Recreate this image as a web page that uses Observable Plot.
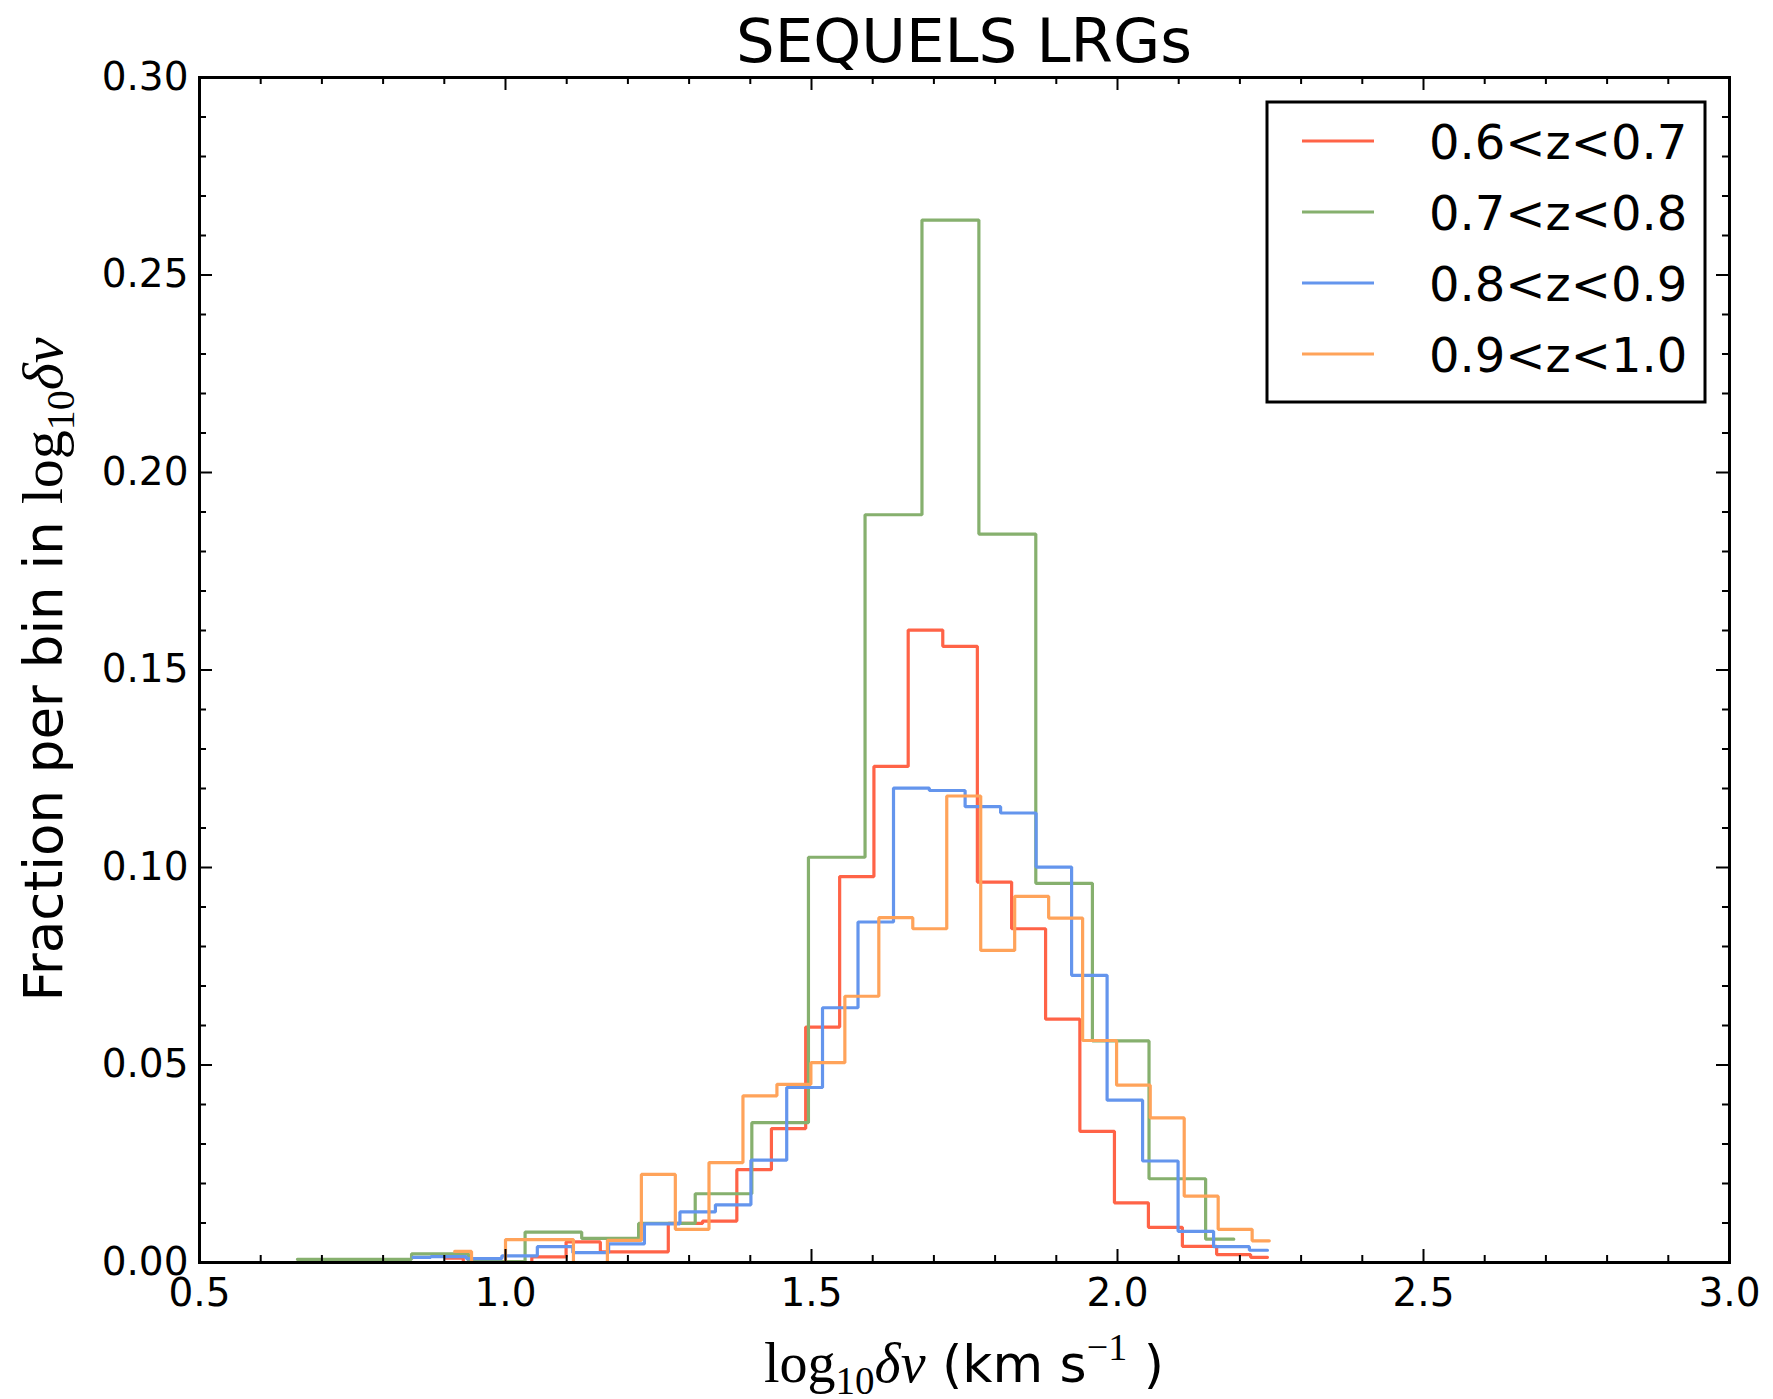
<!DOCTYPE html>
<html><head><meta charset="utf-8">
<script src="https://cdn.jsdelivr.net/npm/d3@7"></script>
<script src="https://cdn.jsdelivr.net/npm/@observablehq/plot@0.6"></script>
<style>html,body{margin:0;padding:0;background:#fff;} #chart{width:1773px;height:1399px;}</style>
</head><body><div id="chart"></div>
<script>
// ---- data ----
const seriesNames = ["0.6<z<0.7", "0.7<z<0.8", "0.8<z<0.9", "0.9<z<1.0"];
const seriesColors = ["#ff6347", "#86b06e", "#6495ed", "#ffa35a"];

const redX = [0.903,0.959,1.015,1.071,1.127,1.183,1.238,1.294,1.350,1.406,1.463,1.518,1.574,1.630,1.686,1.743,1.799,1.855,1.910,1.967,2.023,2.078,2.134,2.190,2.245];
const redY = [0.0011,0,0,0.0014,0.0052,0.0027,0.0027,0.0099,0.0105,0.0235,0.0339,0.0596,0.0977,0.1256,0.1601,0.1560,0.0963,0.0845,0.0616,0.0332,0.0151,0.0089,0.0041,0.0020,0.0013];

const greenX = [0.660,0.800,0.893,0.986,1.078,1.171,1.264,1.356,1.449,1.541,1.634,1.727,1.820,1.913,2.005,2.098,2.190];
const greenY = [0.0008,0.0008,0.0022,0.0002,0.0077,0.0061,0.0099,0.0174,0.0354,0.1026,0.1893,0.2639,0.1844,0.0960,0.0561,0.0212,0.0059];

const blueX = [0.849,0.907,0.965,1.023,1.081,1.139,1.198,1.256,1.314,1.372,1.430,1.489,1.547,1.605,1.663,1.722,1.780,1.838,1.896,1.954,2.012,2.070,2.128,2.186,2.245];
const blueY = [0.0013,0.0015,0.0010,0.0017,0.0040,0.0025,0.0047,0.0098,0.0128,0.0146,0.0259,0.0443,0.0645,0.0862,0.1201,0.1195,0.1154,0.1138,0.1001,0.0727,0.0411,0.0257,0.0079,0.0040,0.0031];

const orangeX = [0.917,0.972,1.028,1.083,1.139,1.194,1.250,1.305,1.360,1.416,1.471,1.527,1.582,1.638,1.693,1.749,1.804,1.860,1.915,1.971,2.026,2.081,2.137,2.192,2.248];
const orangeY = [0.0028,0,0.0058,0.0058,0,0.0056,0.0223,0.0084,0.0253,0.0422,0.0451,0.0506,0.0674,0.0873,0.0845,0.1181,0.0790,0.0927,0.0872,0.0562,0.0449,0.0366,0.0168,0.0084,0.0055];

const xMajor = [0.5, 1.0, 1.5, 2.0, 2.5, 3.0];
const xMinor = [0.6,0.7,0.8,0.9,1.1,1.2,1.3,1.4,1.6,1.7,1.8,1.9,2.1,2.2,2.3,2.4,2.6,2.7,2.8,2.9];
const yMajor = [0, 0.05, 0.10, 0.15, 0.20, 0.25, 0.30];
const yMinor = [0.01,0.02,0.03,0.04,0.06,0.07,0.08,0.09,0.11,0.12,0.13,0.14,0.16,0.17,0.18,0.19,0.21,0.22,0.23,0.24,0.26,0.27,0.28,0.29];

const titleText = "SEQUELS LRGs";

// ---- table built from the arrays ----
const seriesData = [[redX, redY], [greenX, greenY], [blueX, blueY], [orangeX, orangeY]];
const rows = [];
seriesData.forEach(([xs, ys], i) => xs.forEach((x, j) => rows.push({series: seriesNames[i], x, y: ys[j]})));

// ---- layout ----
const W = 1773, H = 1399;
const mL = 199, mR = 44, mT = 77, mB = 137;
const fw = W - mL - mR, fh = H - mT - mB;
const majorLen = 13, minorLen = 7;

const svg = Plot.plot({
  width: W, height: H,
  marginLeft: mL, marginRight: mR, marginTop: mT, marginBottom: mB,
  style: {fontFamily: "'DejaVu Sans', sans-serif", fontSize: "39px", color: "black", background: "white", overflow: "visible"},
  x: {domain: [0.5, 3.0], ticks: xMajor, tickFormat: d3.format(".1f"), tickSize: 0, tickPadding: 16, label: null},
  y: {domain: [0, 0.30], ticks: yMajor, tickFormat: d3.format(".2f"), tickSize: 0, tickPadding: 11, label: null},
  color: {domain: seriesNames, range: seriesColors},
  marks: [
    Plot.line(rows, {x: "x", y: "y", z: "series", stroke: "series", curve: "step", strokeWidth: 3.2, strokeLinejoin: "miter"}),
    // inward ticks on all four sides
    Plot.tickX(xMajor, {x: d => d, insetTop: fh - majorLen, stroke: "black", strokeWidth: 2}),
    Plot.tickX(xMajor, {x: d => d, insetBottom: fh - majorLen, stroke: "black", strokeWidth: 2}),
    Plot.tickX(xMinor, {x: d => d, insetTop: fh - minorLen, stroke: "black", strokeWidth: 2}),
    Plot.tickX(xMinor, {x: d => d, insetBottom: fh - minorLen, stroke: "black", strokeWidth: 2}),
    Plot.tickY(yMajor, {y: d => d, insetRight: fw - majorLen, stroke: "black", strokeWidth: 2}),
    Plot.tickY(yMajor, {y: d => d, insetLeft: fw - majorLen, stroke: "black", strokeWidth: 2}),
    Plot.tickY(yMinor, {y: d => d, insetRight: fw - minorLen, stroke: "black", strokeWidth: 2}),
    Plot.tickY(yMinor, {y: d => d, insetLeft: fw - minorLen, stroke: "black", strokeWidth: 2}),
    Plot.frame({stroke: "black", strokeWidth: 3})
  ]
});
document.getElementById("chart").appendChild(svg);

const s = d3.select(svg);
const serif = "'Liberation Serif', 'DejaVu Serif', serif";
const sans = "'DejaVu Sans', sans-serif";
const cx = mL + fw / 2, cy = mT + fh / 2;

// title
s.append("text").attr("x", cx).attr("y", 62).attr("text-anchor", "middle")
  .attr("font-family", sans).attr("font-size", 61).attr("fill", "black").text(titleText);

// x label
const xl = s.append("text").attr("x", cx).attr("y", 1382).attr("text-anchor", "middle")
  .attr("font-size", 52).attr("fill", "black");
xl.append("tspan").attr("font-family", serif).attr("font-size", 56).text("log");
xl.append("tspan").attr("font-family", serif).attr("font-size", 39).attr("dy", 12).text("10");
xl.append("tspan").attr("font-family", serif).attr("font-size", 56).attr("font-style", "italic").attr("dy", -12).text("δv");
xl.append("tspan").attr("font-family", sans).attr("font-size", 52).text(" (km s");
xl.append("tspan").attr("font-family", serif).attr("font-size", 38).attr("dy", -22).text("−1");
xl.append("tspan").attr("font-family", sans).attr("font-size", 52).attr("dy", 22).text(" )");

// y label
const yl = s.append("text").attr("transform", `translate(62,${cy}) rotate(-90)`).attr("text-anchor", "middle")
  .attr("font-size", 53).attr("fill", "black");
yl.append("tspan").attr("font-family", sans).text("Fraction per bin in ");
yl.append("tspan").attr("font-family", serif).attr("font-size", 58).text("log");
yl.append("tspan").attr("font-family", serif).attr("font-size", 40).attr("dy", 12).text("10");
yl.append("tspan").attr("font-family", serif).attr("font-size", 58).attr("font-style", "italic").attr("dy", -12).text("δv");

// legend
const lg = s.append("g");
lg.append("rect").attr("x", 1267).attr("y", 102).attr("width", 438).attr("height", 300)
  .attr("fill", "white").attr("stroke", "black").attr("stroke-width", 3);
seriesNames.forEach((name, i) => {
  const yy = 141 + i * 71;
  lg.append("line").attr("x1", 1302).attr("x2", 1374).attr("y1", yy).attr("y2", yy)
    .attr("stroke", seriesColors[i]).attr("stroke-width", 3.2);
  lg.append("text").attr("x", 1429).attr("y", yy + 17.5).attr("text-anchor", "start")
    .attr("font-family", sans).attr("font-size", 48).attr("fill", "black").text(name);
});
</script>
</body></html>
